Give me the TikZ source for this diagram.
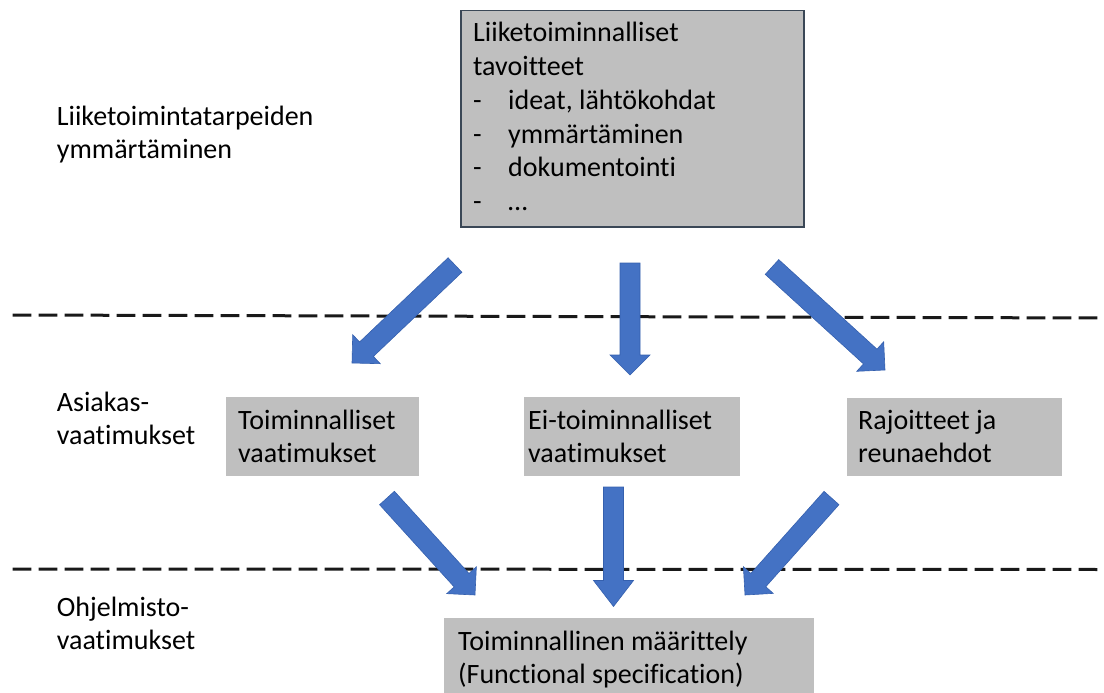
\documentclass[tikz,border=0pt]{standalone}
\usepackage{fontspec}
\setmainfont{Carlito}[Ligatures=NoCommon]
\usetikzlibrary{calc}

\definecolor{boxgray}{HTML}{BFBFBF}
\definecolor{arrowblue}{HTML}{4472C4}
\definecolor{arrowedge}{HTML}{3560AE}
\definecolor{frameslate}{HTML}{3A4756}

\tikzset{
  graybox/.style={fill=boxgray, draw=none},
  framedbox/.style={fill=boxgray, draw=frameslate, line width=1.2pt},
  txt/.style={anchor=base west, inner sep=0pt, font=\fontsize{28}{33}\selectfont},
  toptxt/.style={anchor=base west, inner sep=0pt, font=\fontsize{28}{33.8}\selectfont},
  divider/.style={line width=3pt, black!90, dash pattern=on 18.7pt off 7.3pt},
  blockstyle/.style={fill=arrowblue, draw=arrowedge, line width=0.6pt, line join=miter},
}

% Wide block arrow from tail #2 to tip #3; #1 is the head length
\newcommand\blockarrow[3][20]{%
  \coordinate (headbase) at ($(#3)!#1pt!(#2)$);
  \filldraw[blockstyle]
    ($(#2)!10pt!90:(#3)$) --
    ($(headbase)!10pt!90:(#3)$) --
    ($(headbase)!20pt!90:(#3)$) --
    (#3) --
    ($(headbase)!20pt!-90:(#3)$) --
    ($(headbase)!10pt!-90:(#3)$) --
    ($(#2)!10pt!-90:(#3)$) -- cycle;
}

\newcommand\textlines[1]{\begin{tabular}[t]{@{}l@{}}#1\end{tabular}}
\newcommand\goalitem[1]{\makebox[35pt][l]{-}#1}

\begin{document}
\begin{tikzpicture}[x=1pt, y=-1pt]
\useasboundingbox (0,0) rectangle (1104,693);

% level dividers
\coordinate (d1a) at (12.7,315);
\coordinate (d1b) at (1104,318);
\coordinate (d2a) at (12.7,569);
\coordinate (d2b) at (1104,569.5);
\draw[divider] (d1a) -- (d1b);
\draw[divider] (d2a) -- (d2b);

% level labels
\node[txt] (lvl1) at (56.7,125) {\textlines{Liiketoimintatarpeiden\\ymmärtäminen}};
\node[txt] (lvl2) at (56.7,411.7) {\textlines{Asiakas-\\vaatimukset}};
\node[txt] (lvl3) at (56.7,616.7) {\textlines{Ohjelmisto-\\vaatimukset}};

% business goals
\path[framedbox] (461,10.5) rectangle (804,227);
\node[toptxt] (goals) at (473,41.7) {\textlines{Liiketoiminnalliset\\tavoitteet\\
  \goalitem{ideat, lähtökohdat}\\\goalitem{ymmärtäminen}\\\goalitem{dokumentointi}\\\goalitem{…}}};

% customer requirements
\path[graybox] (226,397) rectangle (419,476);
\node[txt] (funreq) at (238,429) {\textlines{Toiminnalliset\\vaatimukset}};
\path[graybox] (524,397) rectangle (740,476);
\node[txt] (nonfun) at (528,429) {\textlines{Ei-toiminnalliset\\vaatimukset}};
\path[graybox] (847,398) rectangle (1062,476);
\node[txt] (constr) at (858,429) {\textlines{Rajoitteet ja\\reunaehdot}};

% software requirements
\path[graybox] (444,618) rectangle (814,693);
\node[txt] (spec) at (458,650) {\textlines{Toiminnallinen määrittely\\(Functional specification)}};

% arrow end points
\coordinate (a1s) at (455,265);   \coordinate (a1e) at (352,363);
\coordinate (a2s) at (630,263);   \coordinate (a2e) at (630,375);
\coordinate (a3s) at (772,267);   \coordinate (a3e) at (885,370);
\coordinate (a4s) at (387,498);   \coordinate (a4e) at (475,595);
\coordinate (a5s) at (613.5,487); \coordinate (a5e) at (613.5,606.5);
\coordinate (a6s) at (831.5,498); \coordinate (a6e) at (745,595);

\blockarrow{a1s}{a1e}
\blockarrow{a2s}{a2e}
\blockarrow{a3s}{a3e}
\blockarrow{a4s}{a4e}
\blockarrow[26]{a5s}{a5e}
\blockarrow{a6s}{a6e}
\end{tikzpicture}
\end{document}
